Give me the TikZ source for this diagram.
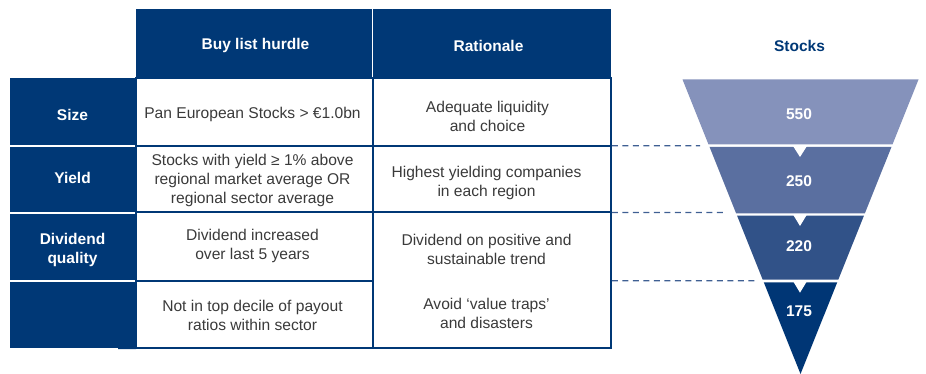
\documentclass[tikz,border=0pt]{standalone}
\usepackage{fontspec}
\setmainfont{Liberation Sans}
\definecolor{navy}{HTML}{003876}
\definecolor{tierA}{HTML}{8592BB}
\definecolor{tierB}{HTML}{5A6FA0}
\definecolor{tierC}{HTML}{315288}
\definecolor{tierD}{HTML}{003675}
\definecolor{bodygrey}{HTML}{3A3A3A}
\definecolor{guideblue}{HTML}{3F5F93}

\begin{document}
\begin{tikzpicture}[x=1pt,y=-1pt,
  cell/.style={rectangle, inner sep=0pt, outer sep=0pt},
  headcell/.style={cell, fill=navy},
  bodycell/.style={cell, draw=navy, line width=2pt},
  hdrtext/.style={text=white, font=\fontsize{15.5}{18.5}\selectfont\bfseries, align=center, inner sep=0pt},
  bodytxt/.style={text=bodygrey, font=\fontsize{15.6}{19}\selectfont, align=center, inner sep=0pt},
  numtext/.style={text=white, font=\fontsize{15.5}{18}\selectfont\bfseries, inner sep=0pt},
  guide/.style={draw=guideblue, line width=1.2pt, dash pattern=on 6pt off 4.5pt},
]
\useasboundingbox (0,0) rectangle (926,374);

% column headers
\node[headcell, minimum width=236.5pt, minimum height=68.5pt] (hHurdle) at (253.75,43.75) {};
\node[headcell, minimum width=237.7pt, minimum height=68.5pt] (hRationale) at (492.15,43.75) {};
\node[hdrtext] (tHurdle) at (255.5,45.5) {Buy list hurdle};
\node[hdrtext] (tRationale) at (488.5,45.5) {Rationale};

% row labels
\node[headcell, minimum width=125.5pt, minimum height=66.7pt] (lSize) at (72.75,111.35) {};
\node[headcell, minimum width=125.5pt, minimum height=65.3pt] (lYield) at (72.75,179.35) {};
\node[headcell, minimum width=125.5pt, minimum height=66.3pt] (lDiv) at (72.75,247.15) {};
\node[headcell, minimum width=125.5pt, minimum height=65.2pt] (lBlank) at (72.75,314.9) {};
\node[hdrtext] (tSize) at (72.5,114.5) {Size};
\node[hdrtext] (tYield) at (72.5,177.5) {Yield};
\node[hdrtext, font=\fontsize{15.5}{19}\selectfont\bfseries] (tDiv) at (72.5,250) {Dividend\\quality};

% body grid
\node[bodycell, minimum width=237pt, minimum height=67.8pt] (b1) at (254.5,111.9) {};
\node[bodycell, minimum width=237pt, minimum height=66.7pt] (b2) at (254.5,179.15) {};
\node[bodycell, minimum width=237pt, minimum height=68.3pt] (b3) at (254.5,246.65) {};
\node[bodycell, minimum width=237pt, minimum height=67.2pt] (b4) at (254.5,314.4) {};
\node[bodycell, minimum width=237.8pt, minimum height=67.8pt] (r1) at (491.9,111.9) {};
\node[bodycell, minimum width=237.8pt, minimum height=66.7pt] (r2) at (491.9,179.15) {};
\node[bodycell, minimum width=237.8pt, minimum height=135.5pt] (r34) at (491.9,280.25) {};
\coordinate (stub) at (118,348);
\draw[navy, line width=2pt] (stub) -- (b4.south west);

% cell texts
\node[bodytxt] (tb1) at (252.5,114.5) {Pan European Stocks > €1.0bn};
\node[bodytxt] (tb2) at (252.5,180) {Stocks with yield ≥ 1\% above\\regional market average OR\\regional sector average};
\node[bodytxt] (tb3) at (252.5,246) {Dividend increased\\over last 5 years};
\node[bodytxt] (tb4) at (252.5,315) {Not in top decile of payout\\ratios within sector};
\node[bodytxt] (tr1) at (487.5,116) {Adequate liquidity\\and choice};
\node[bodytxt] (tr2) at (486.5,183) {Highest yielding companies\\in each region};
\node[bodytxt] (tr3) at (486.5,249) {Dividend on positive and\\sustainable trend};
\node[bodytxt] (tr4) at (486.5,313) {Avoid ‘value traps’\\and disasters};

% funnel
\node[text=navy, font=\fontsize{15.5}{18}\selectfont\bfseries, inner sep=0pt] (tStocks) at (799.5,45.5) {Stocks};
\fill[tierA] (682.5,79.5) -- (918.5,79.5) -- (892.46,144.5) -- (708.54,144.5) -- cycle;
\fill[tierB] (709.47,146.8) -- (891.53,146.8) -- (864.89,213.3) -- (736.11,213.3) -- cycle;
\fill[tierC] (737.07,215.7) -- (863.93,215.7) -- (838.36,279.5) -- (762.64,279.5) -- cycle;
\fill[tierD] (763.76,282.3) -- (837.24,282.3) -- (800.5,374) -- cycle;
\fill[white] (793,146) -- (807,146) -- (800,157) -- cycle;
\fill[white] (793.3,215) -- (806.7,215) -- (800,226) -- cycle;
\fill[white] (793.3,281.6) -- (806.7,281.6) -- (800,292.7) -- cycle;
\node[numtext] (n550) at (799,114) {550};
\node[numtext] (n250) at (799,181) {250};
\node[numtext] (n220) at (799,246) {220};
\node[numtext] (n175) at (799,311) {175};

% dashed guides from the table to the funnel
\coordinate (g1) at (700,145.8);
\coordinate (g2) at (723,212.5);
\coordinate (g3) at (757,280.8);
\draw[guide] ([xshift=1pt]r1.south east) -- (g1);
\draw[guide] ([xshift=1pt]r2.south east) -- (g2);
\draw[guide] ([xshift=1pt]r34.east |- b3.south) -- (g3);
\end{tikzpicture}
\end{document}
